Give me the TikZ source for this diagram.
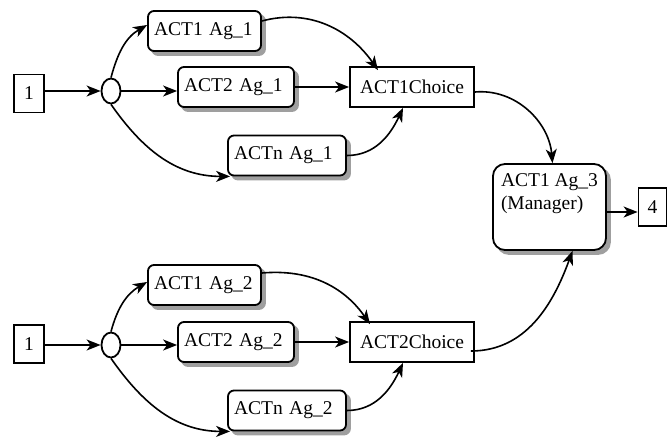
\documentclass[tikz,border=0pt]{standalone}
\usepackage{fontspec}
\setmainfont{Liberation Serif}
\usetikzlibrary{arrows.meta,shapes.geometric}
\begin{document}
\begin{tikzpicture}[x=1pt,y=-1pt,
  font=\fontsize{19.5}{22.5}\selectfont,
  every node/.style={line width=1.8pt},
  conn/.style={line width=1.6pt,-{Stealth[length=14pt,width=11pt,inset=4pt]}},
  shad/.style={preaction={fill=gray!75,draw=gray!75,transform canvas={xshift=4pt,yshift=-4pt}}},
  numbox/.style={draw,rectangle,minimum width=#1,minimum height=38pt,inner sep=0pt,fill=white},
  actbox/.style={draw,rectangle,rounded corners=6pt,shad,fill=white,minimum height=40pt,
    text width=#1-12pt,inner xsep=6pt,inner ysep=0pt,align=left},
  choicebox/.style={draw,rectangle,minimum width=124pt,minimum height=40pt,inner sep=0pt,fill=white},
  split/.style={draw,ellipse,minimum width=19pt,minimum height=25pt,inner sep=0pt,fill=white},
  mgrbox/.style={draw,rectangle,rounded corners=12pt,shad,fill=white,minimum width=113pt,minimum height=86pt,inner sep=0pt}
]
\useasboundingbox (0,0) rectangle (667,437);

% top group
\node[numbox=30pt] (b1) at (29,93.5) {1};
\node[split] (e1) at (111,91) {};
\node[actbox=113pt] (a11) at (204.5,31) {ACT1 Ag\_1};
\node[actbox=116pt] (a21) at (236,87) {ACT2 Ag\_1};
\node[actbox=118pt] (an1) at (287,155.5) {ACTn Ag\_1};
\node[choicebox] (c1) at (412,87) {ACT1Choice};

% manager and output
\node[mgrbox] (m) at (549.5,207) {};
\node[anchor=north west,align=left,inner sep=0pt] (mt) at ([xshift=8pt,yshift=-10pt]m.north west) {ACT1 Ag\_3\\(Manager)};
\node[numbox=28pt] (b4) at (652.5,207) {4};

% bottom group
\node[numbox=30pt] (b2) at (29,344) {1};
\node[split] (e2) at (111,345) {};
\node[actbox=113pt] (a12) at (204.5,285) {ACT1 Ag\_2};
\node[actbox=116pt] (a22) at (236,342) {ACT2 Ag\_2};
\node[actbox=118pt] (an2) at (287,410.5) {ACTn Ag\_2};
\node[choicebox] (c2) at (412,342) {ACT2Choice};

% top connectors
\draw[conn] (b1.east |- e1.west) -- (e1.west);
\draw[conn] (e1.north) to[out=75,in=210] ([yshift=6pt]a11.west);
\draw[conn] (e1.east) -- (a21.west |- e1.east);
\draw[conn] (e1.south) to[out=-55,in=180] ([xshift=3pt]an1.south west);
\draw[conn] ([yshift=10pt]a11.east) to[out=15,in=125] ([xshift=-34pt,yshift=-4pt]c1.north);
\draw[conn] (a21.east) -- (c1.west);
\draw[conn] (an1.east) to[out=0,in=-115] ([xshift=-9pt]c1.south);
\draw[conn] ([yshift=-5pt]c1.east) to[out=5,in=95] ([xshift=3pt]m.north);

% manager out
\draw[conn] ([yshift=-5pt]m.east) -- ([yshift=-5pt]b4.west);

% bottom connectors
\draw[conn] (b2.east |- e2.west) -- (e2.west);
\draw[conn] (e2.north) to[out=75,in=210] ([yshift=3pt]a12.west);
\draw[conn] (e2.east) -- (a22.west |- e2.east);
\draw[conn] (e2.south) to[out=-55,in=180] ([xshift=3pt]an2.south west);
\draw[conn] ([yshift=12pt]a12.east) to[out=5,in=125] ([xshift=-42pt,yshift=-3pt]c2.north);
\draw[conn] (a22.east) -- (c2.west);
\draw[conn] (an2.east) to[out=0,in=-115] ([xshift=-9pt]c2.south);
\draw[conn] ([xshift=-4pt,yshift=-9pt]c2.east) to[out=0,in=-110] ([xshift=23pt]m.south);
\end{tikzpicture}
\end{document}
